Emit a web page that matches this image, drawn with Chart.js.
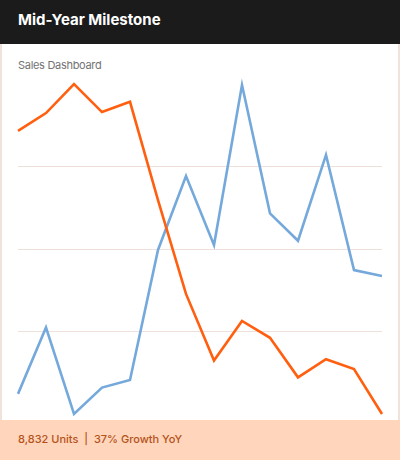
<!DOCTYPE html>
<html>
<head>
<meta charset="utf-8">
<script src="https://cdn.jsdelivr.net/npm/chart.js@4.4.0/dist/chart.umd.min.js"></script>
<style>
  html, body { margin: 0; padding: 0; background: #ffffff; }
  body { width: 400px; height: 460px; overflow: hidden; font-family: "Inter", "Noto Sans", sans-serif; }
  .header { position: absolute; left: 0; top: 0; width: 400px; height: 44px; background: #1b1b1b; }
  .header h1 { margin: 0; position: absolute; left: 18px; top: 10px; font-size: 15px; font-weight: 700; color: #ffffff; letter-spacing: 0px; }
  .body { position: absolute; left: 0; top: 44px; width: 396px; height: 376px; background: #fff; border-left: 2px solid #f2e2dc; border-right: 2px solid #f2e2dc; }
  .sub { position: absolute; left: 18px; top: 58px; font-size: 11px; color: #737373; letter-spacing: -0.3px; }
  .footer { position: absolute; left: 0; top: 420px; width: 400px; height: 40px; background: #ffd5bc; }
  .footer span { position: absolute; left: 18px; top: 12px; font-size: 11px; font-weight: 500; color: #b45219; }
  .wrap { position: absolute; left: 0; top: 74px; width: 400px; height: 350px; }
  canvas { display: block; }
</style>
</head>
<body>
<div class="header"><h1>Mid-Year Milestone</h1></div>
<div class="body"></div>
<div class="sub">Sales Dashboard</div>
<div class="wrap"><canvas id="c" width="400" height="350" style="width:400px;height:350px"></canvas></div>
<div class="footer"><span>8,832 Units&nbsp; |&nbsp; 37% Growth YoY</span></div>
<script>
const categories = ["1","2","3","4","5","6","7","8","9","10","11","12","13","14"];
const seriesOrange = [85.8, 91.2, 100, 91.5, 94.6, 64.8, 36.4, 16.2, 28.2, 23.1, 11.1, 16.6, 13.6, 0];
const seriesBlue = [6.1, 26.2, 0, 8.0, 10.3, 49.7, 72.1, 51.2, 99.7, 60.8, 52.5, 78.5, 43.6, 41.8];

new Chart(document.getElementById('c'), {
  type: 'line',
  data: {
    labels: categories,
    datasets: [
      { data: seriesOrange, borderColor: '#ff5f0f', borderWidth: 2.6, pointRadius: 0, tension: 0, clip: 6 },
      { data: seriesBlue, borderColor: '#75a9dc', borderWidth: 2.6, pointRadius: 0, tension: 0, clip: 6 }
    ]
  },
  options: {
    responsive: false,
    animation: false,
    layout: { padding: { left: 18, right: 18, top: 10, bottom: 10 } },
    plugins: { legend: { display: false }, tooltip: { enabled: false } },
    scales: {
      x: { display: false, offset: false },
      y: {
        min: 0, max: 100,
        ticks: { display: false, stepSize: 25 },
        border: { display: false },
        grid: {
          drawTicks: false,
          color: (ctx) => (ctx.tick && (ctx.tick.value === 0 || ctx.tick.value === 100)) ? 'rgba(0,0,0,0)' : '#efe1da',
          lineWidth: 1
        }
      }
    }
  }
});
</script>
</body>
</html>
